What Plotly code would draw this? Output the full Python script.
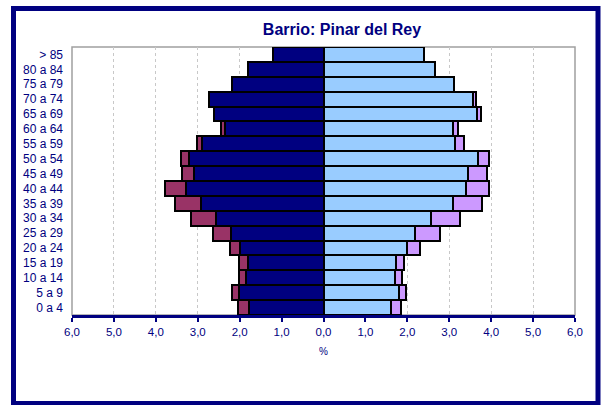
import plotly.graph_objects as go

categories = ["0 a 4", "5 a 9", "10 a 14", "15 a 19", "20 a 24", "25 a 29", "30 a 34",
              "35 a 39", "40 a 44", "45 a 49", "50 a 54", "55 a 59", "60 a 64",
              "65 a 69", "70 a 74", "75 a 79", "80 a 84", "> 85"]

# Men: base part (navy) and additional part (maroon), in %
men_a = [1.77, 2.02, 1.85, 1.81, 2.00, 2.21, 2.56, 2.92, 3.28, 3.08, 3.22, 2.90, 2.36,
         2.62, 2.72, 2.19, 1.79, 1.21]
men_b = [0.28, 0.16, 0.16, 0.20, 0.24, 0.43, 0.60, 0.62, 0.49, 0.30, 0.19, 0.11, 0.08,
         0.00, 0.00, 0.00, 0.00, 0.00]
# Women: base part (light blue) and additional part (lilac), in %
women_a = [1.61, 1.79, 1.71, 1.73, 1.99, 2.19, 2.56, 3.08, 3.41, 3.45, 3.68, 3.14, 3.10,
           3.66, 3.57, 3.11, 2.66, 2.40]
women_b = [0.23, 0.17, 0.16, 0.20, 0.32, 0.59, 0.69, 0.71, 0.54, 0.44, 0.27, 0.20, 0.12,
           0.10, 0.06, 0.00, 0.00, 0.00]

tick_vals = [-6, -5, -4, -3, -2, -1, 0, 1, 2, 3, 4, 5, 6]
tick_text = ["6,0", "5,0", "4,0", "3,0", "2,0", "1,0", "0,0", "1,0", "2,0", "3,0", "4,0", "5,0", "6,0"]

navy = "#000080"
line = dict(color="black", width=2)

fig = go.Figure()
fig.add_trace(go.Bar(y=categories, x=[-v for v in men_a], orientation="h",
                     marker=dict(color=navy, line=line), name="Hombres"))
fig.add_trace(go.Bar(y=categories, x=[-v for v in men_b], orientation="h",
                     marker=dict(color="#993366", line=line), name="Hombres ext."))
fig.add_trace(go.Bar(y=categories, x=women_a, orientation="h",
                     marker=dict(color="#99CCFF", line=line), name="Mujeres"))
fig.add_trace(go.Bar(y=categories, x=women_b, orientation="h",
                     marker=dict(color="#CC99FF", line=line), name="Mujeres ext."))

fig.update_layout(
    width=602, height=405,
    barmode="relative", bargap=0.0,
    showlegend=False,
    paper_bgcolor="white", plot_bgcolor="white",
    margin=dict(l=72, r=27, t=47, b=90),
    font=dict(family="Liberation Sans, Arial, sans-serif", color=navy, size=12),
    title=dict(text="<b>Barrio: Pinar del Rey</b>", x=342 / 602, xanchor="center",
               y=1 - 29 / 405, yanchor="middle",
               font=dict(size=16, color=navy, family="Liberation Sans, Arial, sans-serif")),
    xaxis=dict(range=[-6, 6], tickvals=tick_vals, ticktext=tick_text,
               showgrid=True, gridcolor="#c8c8c8", griddash="dot", gridwidth=1,
               zeroline=False, showline=True, linecolor=navy, linewidth=2.5,
               ticks="outside", ticklen=4, tickcolor=navy, tickwidth=1.5,
               tickfont=dict(size=11.5, color=navy),
               title=dict(text="%", font=dict(size=10, color=navy), standoff=12)),
    yaxis=dict(categoryorder="array", categoryarray=categories,
               showgrid=False, zeroline=False, ticks="",
               tickfont=dict(size=12, color=navy), ticklabelstandoff=8),
    shapes=[
        dict(type="rect", xref="paper", yref="paper", x0=0, x1=1, y0=0, y1=1,
             line=dict(color="#a0a0a0", width=1.5), layer="below"),
        dict(type="rect", xref="paper", yref="paper",
             x0=(13.5 - 72) / 503, x1=(598 - 72) / 503,
             y0=(315 - 403.5) / 268, y1=(315 - 8.5) / 268,
             line=dict(color=navy, width=5)),
    ],
)

fig.write_html("out.html", config={"displayModeBar": False},
               post_script="document.body.style.margin='0';document.body.style.padding='0';")
